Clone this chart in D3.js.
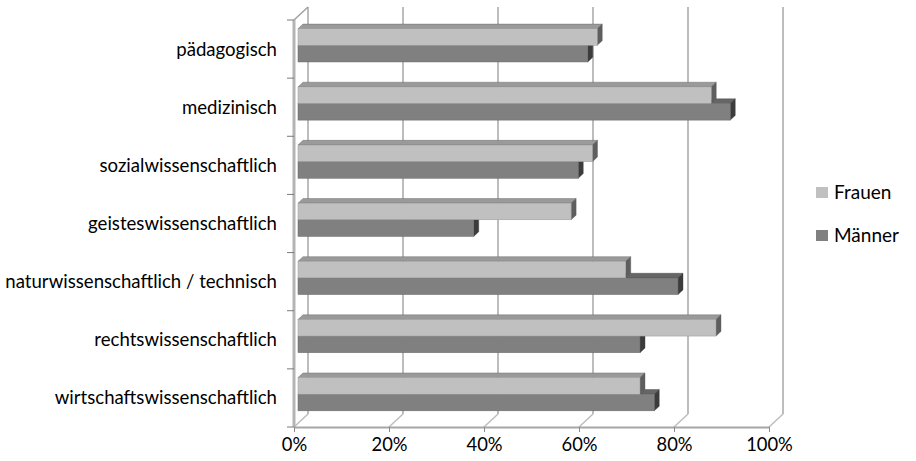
<!DOCTYPE html>
<html>
<head>
<meta charset="utf-8">
<script src="https://cdn.jsdelivr.net/npm/d3@7"></script>
<style>
  html, body { margin: 0; padding: 0; background: #fff; }
  svg { display: block; }
  text { font-family: Lato, "Open Sans", sans-serif; fill: #000; }
</style>
</head>
<body>
<svg id="chart" width="916" height="461"></svg>
<script>
// Fields of study (top to bottom)
const categories = [
  "pädagogisch",
  "medizinisch",
  "sozialwissenschaftlich",
  "geisteswissenschaftlich",
  "naturwissenschaftlich / technisch",
  "rechtswissenschaftlich",
  "wirtschaftswissenschaftlich"
];
const seriesNames = ["Frauen", "Männer"];
// Shares in percent
const frauen  = [63, 87, 62, 57.5, 69, 88, 72];
const maenner = [61, 91, 59, 37, 80, 72, 75];
const xTicks = [0, 20, 40, 60, 80, 100];

const colors = {
  Frauen: { front: "#c0c0c0", top: "#9a9a9a", side: "#5e5e5e" },
  "Männer": { front: "#808080", top: "#666666", side: "#3c3c3c" }
};

const svg = d3.select("#chart");

// Front plane scales
const x = d3.scaleLinear().domain([0, 100]).range([294, 769]);
const y = d3.scaleBand().domain(categories).range([20, 427]).padding(0);
const sub = d3.scaleBand().domain(seriesNames).range([0, y.bandwidth()])
  .paddingInner(0).paddingOuter(0.75);

// Oblique depth projection: depth d shifts right and up
const WALL = 14, K = 0.93;
const px = (xv, d) => xv + d;
const py = (yv, d) => yv - d * K;

const floorY = y.range()[1];
const topY = y.range()[0];

// Back wall gridlines
const grid = svg.append("g");
grid.selectAll("line.v").data(xTicks).join("line")
  .attr("x1", d => px(x(d), WALL)).attr("x2", d => px(x(d), WALL))
  .attr("y1", py(topY, WALL)).attr("y2", py(floorY, WALL))
  .attr("stroke", "#bdbdbd").attr("stroke-width", 2);
// Floor diagonals
grid.selectAll("line.f").data(xTicks).join("line")
  .attr("x1", d => x(d)).attr("y1", floorY)
  .attr("x2", d => px(x(d), WALL)).attr("y2", py(floorY, WALL))
  .attr("stroke", "#bdbdbd").attr("stroke-width", 1.5);
// Side wall top edge
grid.append("line")
  .attr("x1", x(0)).attr("y1", topY)
  .attr("x2", px(x(0), WALL)).attr("y2", py(topY, WALL))
  .attr("stroke", "#a0a0a0").attr("stroke-width", 1.5);

// Bars
const D0 = 4, D1 = 9;
const rows = [];
categories.forEach((c, i) => {
  rows.push({ cat: c, s: "Frauen", v: frauen[i] });
  rows.push({ cat: c, s: "Männer", v: maenner[i] });
});
// draw from the bottom up so each upper bar covers the top face below it
rows.reverse();

const bars = svg.append("g");
const pts = a => a.map(p => p.join(",")).join(" ");
rows.forEach(r => {
  const y0 = y(r.cat) + sub(r.s);
  const y1 = y0 + sub.bandwidth();
  const xa = x(0), xb = x(r.v);
  const col = colors[r.s];
  const g = bars.append("g");
  // top face
  g.append("polygon")
    .attr("points", pts([[px(xa, D0), py(y0, D0)], [px(xb, D0), py(y0, D0)],
                         [px(xb, D1), py(y0, D1)], [px(xa, D1), py(y0, D1)]]))
    .attr("fill", col.top).attr("stroke", col.side).attr("stroke-width", 0.4);
  // side face
  g.append("polygon")
    .attr("points", pts([[px(xb, D0), py(y0, D0)], [px(xb, D1), py(y0, D1)],
                         [px(xb, D1), py(y1, D1)], [px(xb, D0), py(y1, D0)]]))
    .attr("fill", col.side).attr("stroke", col.side).attr("stroke-width", 0.4);
  // front face
  g.append("rect")
    .attr("x", px(xa, D0)).attr("y", py(y0, D0))
    .attr("width", xb - xa).attr("height", y1 - y0)
    .attr("fill", col.front).attr("stroke", col.top).attr("stroke-width", 0.5);
});

// Left axis line with boundary ticks
const axisG = svg.append("g");
axisG.append("line")
  .attr("x1", x(0)).attr("x2", x(0)).attr("y1", topY).attr("y2", floorY)
  .attr("stroke", "#b4b4b4").attr("stroke-width", 3);
const bounds = categories.map(c => y(c)).concat([floorY]);
axisG.selectAll("line.t").data(bounds).join("line")
  .attr("x1", x(0) - 7).attr("x2", x(0)).attr("y1", d => d).attr("y2", d => d)
  .attr("stroke", "#7a7a7a").attr("stroke-width", 1);

// Category labels
const yAxis = svg.append("g")
  .attr("transform", `translate(${x(0) - 17},0)`)
  .call(d3.axisLeft(y).tickSize(0).tickPadding(0));
yAxis.select(".domain").remove();
yAxis.selectAll("text").attr("font-size", 18.6).attr("dy", "0.35em");

// Bottom axis
const xAxis = svg.append("g")
  .attr("transform", `translate(0,${floorY})`)
  .call(d3.axisBottom(x).tickValues(xTicks).tickFormat(d => d + "%")
        .tickSizeInner(5).tickSizeOuter(0).tickPadding(6));
xAxis.select(".domain").attr("stroke", "#a6a6a6").attr("stroke-width", 2);
xAxis.selectAll(".tick line").attr("stroke", "#8a8a8a");
xAxis.selectAll("text").attr("font-size", 18.4);

// Legend
const legend = svg.append("g").attr("transform", "translate(816,187)");
const li = legend.selectAll("g").data(seriesNames).join("g")
  .attr("transform", (d, i) => `translate(0,${i * 43})`);
li.append("rect").attr("width", 12).attr("height", 11)
  .attr("fill", d => colors[d].front);
li.append("text").attr("x", 18).attr("y", 5.5).attr("dy", "0.35em")
  .attr("font-size", 19).text(d => d);
</script>
</body>
</html>
